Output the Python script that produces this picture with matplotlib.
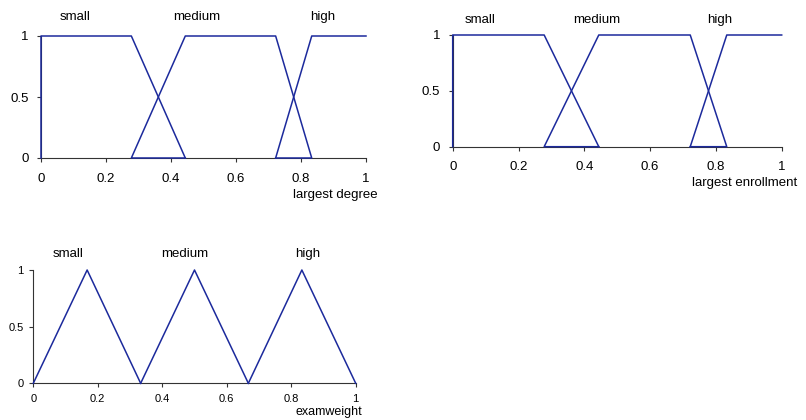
import numpy as np
import matplotlib.pyplot as plt

plt.rcParams['font.family'] = ['Liberation Sans', 'DejaVu Sans']

# membership functions (x breakpoints, membership degree)
set_names = ['small', 'medium', 'high']

trap_small_x = [0, 0, 0.278, 0.444]
trap_small_y = [0, 1, 1, 0]
trap_medium_x = [0.444, 0.278, 0.444, 0.722, 0.833, 0.722]
trap_medium_y = [0, 0, 1, 1, 0, 0]
trap_high_x = [0.722, 0.833, 1]
trap_high_y = [0, 1, 1]

tri_small_x = [0, 0.167, 0.333]
tri_small_y = [0, 1, 0]
tri_medium_x = [0.333, 0.5, 0.667]
tri_medium_y = [0, 1, 0]
tri_high_x = [0.667, 0.833, 1]
tri_high_y = [0, 1, 0]

xticks = [0, 0.2, 0.4, 0.6, 0.8, 1]
xtick_labels = ['0', '0.2', '0.4', '0.6', '0.8', '1']
yticks = [0, 0.5, 1]
ytick_labels = ['0', '0.5', '1']

line_col = '#1c2a9c'
W, H = 806, 420

fig = plt.figure(figsize=(W / 100, H / 100), dpi=100)


def px(x0, y0, x1, y1):
    # pixel box -> figure fraction rect
    return [x0 / W, 1 - y1 / H, (x1 - x0) / W, (y1 - y0) / H]


def setup(ax, fs, xpad, ypad):
    ax.set_xlim(0, 1)
    ax.set_ylim(0, 1)
    ax.spines['top'].set_visible(False)
    ax.spines['right'].set_visible(False)
    ax.spines['bottom'].set_color('#333333')
    ax.spines['left'].set_color('#333333')
    ax.set_xticks(xticks)
    ax.set_xticklabels(xtick_labels)
    ax.set_yticks(yticks)
    ax.set_yticklabels(ytick_labels)
    ax.tick_params(axis='x', length=3, width=0.8, labelsize=fs, pad=xpad, color='#333333')
    ax.tick_params(axis='y', length=3, width=0.8, labelsize=fs, pad=ypad, color='#333333')
    ax.patch.set_visible(False)


# plot 1: largest degree
ax1 = fig.add_axes(px(41, 36, 366, 158))
setup(ax1, 9.5, 8, 6)
for xs, ys in [(trap_small_x, trap_small_y), (trap_medium_x, trap_medium_y), (trap_high_x, trap_high_y)]:
    ax1.plot(xs, ys, color=line_col, lw=1.1, clip_on=False, zorder=3)
for name, xp in zip(set_names, [75, 197, 323]):
    fig.text(xp / W, 1 - 17 / H, name, ha='center', va='center', fontsize=9.5)
fig.text(378 / W, 1 - 195 / H, 'largest degree', ha='right', va='center', fontsize=9.5)

# plot 2: largest enrollment
ax2 = fig.add_axes(px(452.7, 35, 781.7, 146.7))
setup(ax2, 9.5, 7, 6)
for xs, ys in [(trap_small_x, trap_small_y), (trap_medium_x, trap_medium_y), (trap_high_x, trap_high_y)]:
    ax2.plot(xs, ys, color=line_col, lw=1.1, clip_on=False, zorder=3)
for name, xp in zip(set_names, [480, 597, 720]):
    fig.text(xp / W, 1 - 20 / H, name, ha='center', va='center', fontsize=9.5)
fig.text(797 / W, 1 - 183 / H, 'largest enrollment', ha='right', va='center', fontsize=9.5)

# plot 3: examweight
ax3 = fig.add_axes(px(33.3, 270, 355.7, 383.3))
setup(ax3, 8, 5, 4)
for xs, ys in [(tri_small_x, tri_small_y), (tri_medium_x, tri_medium_y), (tri_high_x, tri_high_y)]:
    ax3.plot(xs, ys, color=line_col, lw=1.1, clip_on=False, zorder=3)
for name, xp in zip(set_names, [68, 185, 308]):
    fig.text(xp / W, 1 - 254 / H, name, ha='center', va='center', fontsize=9.5)
fig.text(362 / W, 1 - 412 / H, 'examweight', ha='right', va='center', fontsize=9)

fig.savefig('out.png', dpi=100)
